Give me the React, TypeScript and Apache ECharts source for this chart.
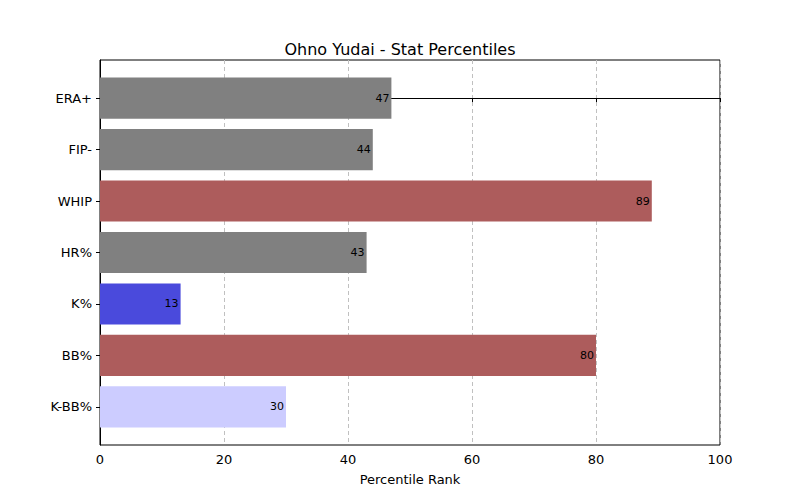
import { useEffect, useRef } from 'react';
import * as echarts from 'echarts';

const stats = ['ERA+', 'FIP-', 'WHIP', 'HR%', 'K%', 'BB%', 'K-BB%'];
const percentiles = [47, 44, 89, 43, 13, 80, 30];
const barColors = ['#808080', '#808080', '#ad5c5c', '#808080', '#4a4adc', '#ad5c5c', '#ccccff'];
const xTicks = [0, 20, 40, 60, 80, 100];

export default function App() {
  const ref = useRef<HTMLDivElement>(null);

  useEffect(() => {
    if (!ref.current) return;
    const chart = echarts.init(ref.current, null, { renderer: 'svg' });
    const font = 'DejaVu Sans';

    chart.setOption({
      animation: false,
      textStyle: { fontFamily: font },
      title: {
        text: 'Ohno Yudai - Stat Percentiles',
        left: 'center',
        top: 36,
        textStyle: { fontFamily: font, fontSize: 16, fontWeight: 'normal', color: '#000' },
      },
      grid: {
        left: 100, right: 80, top: 60, bottom: 55,
        show: true, borderColor: '#000', borderWidth: 1,
      },
      xAxis: {
        type: 'value', min: 0, max: 100, interval: 20,
        name: 'Percentile Rank', nameLocation: 'middle', nameGap: 28,
        nameTextStyle: { fontFamily: font, fontSize: 13, color: '#000' },
        axisLine: { show: true, lineStyle: { color: '#000' } },
        axisTick: { show: true, length: 4, lineStyle: { color: '#000' } },
        axisLabel: { fontFamily: font, fontSize: 13, color: '#000' },
        splitLine: { show: true, lineStyle: { color: '#c0c0c0', type: [4, 3] } },
      },
      yAxis: {
        type: 'value', min: -0.74, max: 6.74, inverse: true,
        axisLine: { show: true, lineStyle: { color: '#000' } },
        axisTick: { show: true, length: 4, customValues: [0, 1, 2, 3, 4, 5, 6], lineStyle: { color: '#000' } },
        axisLabel: {
          fontFamily: font, fontSize: 13, color: '#000',
          customValues: [0, 1, 2, 3, 4, 5, 6],
          formatter: (v: number) => stats[Math.round(v)] ?? '',
        },
        splitLine: { show: false },
      },
      series: [
        {
          type: 'custom',
          data: percentiles.map((p, i) => [p, i]),
          renderItem: (params: any, api: any) => {
            const v = api.value(0);
            const i = api.value(1);
            const top = api.coord([0, i - 0.4]);
            const end = api.coord([v, i + 0.4]);
            const mid = api.coord([v, i]);
            return {
              type: 'group',
              children: [
                {
                  type: 'rect',
                  shape: { x: top[0], y: top[1], width: end[0] - top[0], height: end[1] - top[1] },
                  style: { fill: barColors[params.dataIndex] },
                },
                {
                  type: 'text',
                  x: mid[0] - 2, y: mid[1],
                  style: {
                    text: String(v), fill: '#000', fontSize: 11, fontFamily: font,
                    align: 'right', verticalAlign: 'middle',
                  },
                },
              ],
            };
          },
        },
      ],
    });

    return () => chart.dispose();
  }, []);

  return <div ref={ref} style={{ width: 800, height: 500, margin: -8 }} />;
}
